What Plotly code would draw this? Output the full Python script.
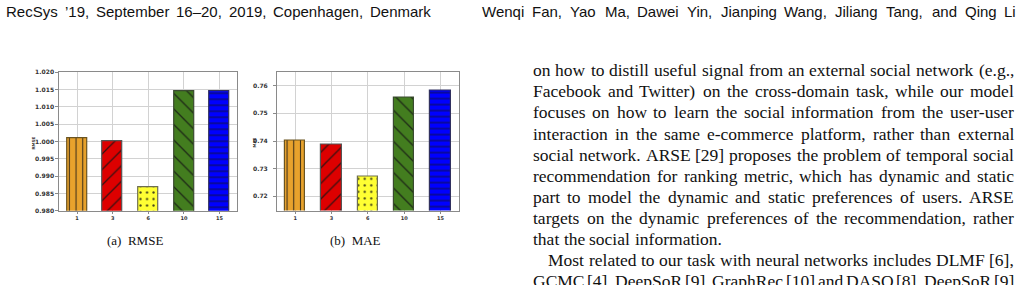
import plotly.graph_objects as go

W, H = 1022, 285

# ---------------- data ----------------
categories = ["1", "3", "6", "10", "15"]
rmse_values = [1.0009, 1.0000, 0.9867, 1.0145, 1.0145]
mae_values = [0.7401, 0.7387, 0.7270, 0.7556, 0.7584]
rmse_ticks = [0.980, 0.985, 0.990, 0.995, 1.000, 1.005, 1.010, 1.015, 1.020]
mae_ticks = [0.72, 0.73, 0.74, 0.75, 0.76]
bar_colors = ["#E8A22C", "#DD0000", "#FFFF33", "#437D1F", "#0000FF"]
edge_colors = ["#6b5420", "#555555", "#6e6e50", "#3a4a30", "#303060"]
hatch_shapes = ["|", "/", ".", "\\", "-"]

header_left = "RecSys ’19, September 16–20, 2019, Copenhagen, Denmark"
header_right = "Wenqi Fan, Yao Ma, Dawei Yin, Jianping Wang, Jiliang Tang, and Qing Li"
body_lines = [
    "on how to distill useful signal from an external social network (e.g.,",
    "Facebook and Twitter) on the cross-domain task, while our model",
    "focuses on how to learn the social information from the user-user",
    "interaction in the same e-commerce platform, rather than external",
    "social network. ARSE [29] proposes the problem of temporal social",
    "recommendation for ranking metric, which has dynamic and static",
    "part to model the dynamic and static preferences of users. ARSE",
    "targets on the dynamic preferences of the recommendation, rather",
    "that the social information.",
    "Most related to our task with neural networks includes DLMF [6],",
    "GCMC [4], DeepSoR [9], GraphRec [10] and DASO [8]. DeepSoR [9]",
]
captions = ["(a)  RMSE", "(b)  MAE"]
axis_titles = ["RMSE", "MAE"]

# ---------------- font metrics (Times / Arial compatible) ----------------
TIMES = {' ': 250, '(': 333, ')': 333, ',': 250, '-': 333, '.': 250, ':': 278, ';': 278,
         '[': 333, ']': 333, "'": 333, '’': 333,
         'A': 722, 'B': 667, 'C': 667, 'D': 722, 'E': 611, 'F': 556, 'G': 722, 'H': 722,
         'I': 333, 'J': 389, 'K': 722, 'L': 611, 'M': 889, 'N': 722, 'O': 722, 'P': 556,
         'Q': 722, 'R': 667, 'S': 556, 'T': 611, 'U': 722, 'V': 722, 'W': 944, 'X': 722,
         'Y': 722, 'Z': 611,
         'a': 444, 'b': 500, 'c': 444, 'd': 500, 'e': 444, 'f': 333, 'g': 500, 'h': 500,
         'i': 278, 'j': 278, 'k': 500, 'l': 278, 'm': 778, 'n': 500, 'o': 500, 'p': 500,
         'q': 500, 'r': 333, 's': 389, 't': 278, 'u': 500, 'v': 500, 'w': 722, 'x': 500,
         'y': 500, 'z': 444}
for d in "0123456789":
    TIMES[d] = 500
ARIAL = {' ': 278, '(': 333, ')': 333, ',': 278, '-': 333, '.': 278, ':': 278,
         '’': 222, "'": 191, '–': 556,
         'A': 667, 'B': 667, 'C': 722, 'D': 722, 'E': 667, 'F': 611, 'G': 778, 'H': 722,
         'I': 278, 'J': 500, 'K': 667, 'L': 556, 'M': 833, 'N': 722, 'O': 778, 'P': 667,
         'Q': 778, 'R': 722, 'S': 667, 'T': 611, 'U': 722, 'V': 667, 'W': 944, 'X': 667,
         'Y': 667, 'Z': 611,
         'a': 556, 'b': 556, 'c': 500, 'd': 556, 'e': 556, 'f': 278, 'g': 556, 'h': 556,
         'i': 222, 'j': 222, 'k': 500, 'l': 222, 'm': 833, 'n': 556, 'o': 556, 'p': 556,
         'q': 556, 'r': 333, 's': 500, 't': 278, 'u': 556, 'v': 500, 'w': 722, 'x': 500,
         'y': 500, 'z': 500}
for d in "0123456789":
    ARIAL[d] = 556


def twidth(s, table, size):
    return sum(table.get(c, 500) for c in s) * size / 1000.0


annotations = []


def place_line(text, x0, x1, yc, size, family, table, justify=True, color="#111"):
    words = text.split(" ")
    widths = [twidth(w, table, size) for w in words]
    if justify and len(words) > 1:
        gap = (x1 - x0 - sum(widths)) / (len(words) - 1)
    else:
        gap = table[' '] * size / 1000.0
    x = x0
    for w, ww in zip(words, widths):
        annotations.append(dict(
            x=x / W, y=1 - yc / H, xref="paper", yref="paper",
            xanchor="left", yanchor="middle", text=w, showarrow=False,
            borderpad=0, borderwidth=0,
            font=dict(family=family, size=size, color=color)))
        x += ww + gap


# ---------------- figure ----------------
fig = go.Figure()

panels = [
    dict(vals=rmse_values, ticks=rmse_ticks, fmt="%.3f", yr=[0.980, 1.020],
         xd=[59.3, 237.3], yd=[70.0, 212.0], standoff=0),
    dict(vals=mae_values, ticks=mae_ticks, fmt="%.2f", yr=[0.7149, 0.7651],
         xd=[277.0, 458.7], yd=[69.3, 211.7], standoff=4),
]

pattern_sizes = {"|": 6.7, "/": 11, ".": 6.5, "\\": 11, "-": 6}
pattern_solid = {"|": 0.16, "/": 0.12, ".": 0.1, "\\": 0.12, "-": 0.17}

for i, p in enumerate(panels):
    xa = "x" if i == 0 else "x2"
    ya = "y" if i == 0 else "y2"
    for j, cat in enumerate(categories):
        shp = hatch_shapes[j]
        fig.add_trace(go.Bar(
            x=[cat], y=[p["vals"][j]], xaxis=xa, yaxis=ya, width=0.56,
            marker=dict(
                color=bar_colors[j],
                line=dict(color=edge_colors[j], width=1.2),
                pattern=dict(shape=shp, size=pattern_sizes[shp],
                             solidity=pattern_solid[shp],
                             fgcolor="#141414", fgopacity=0.8, fillmode="overlay"),
            ),
            showlegend=False, hoverinfo="skip",
        ))

layout_axes = {}
for i, p in enumerate(panels):
    sx = "" if i == 0 else "2"
    layout_axes["xaxis" + sx] = dict(
        domain=[p["xd"][0] / W, p["xd"][1] / W], anchor="y" + sx,
        type="category", categoryorder="array", categoryarray=categories,
        range=[-0.5, 4.5],
        showgrid=True, gridcolor="#d2d2d2", gridwidth=1,
        showline=True, mirror=True, linecolor="#8a8a8a", linewidth=1,
        ticks="outside", ticklen=2, tickcolor="#8a8a8a",
        tickfont=dict(family="DejaVu Sans", size=5, color="#333", weight="bold"),
        zeroline=False, fixedrange=True,
    )
    layout_axes["yaxis" + sx] = dict(
        domain=[1 - p["yd"][1] / H, 1 - p["yd"][0] / H], anchor="x" + sx,
        range=p["yr"],
        tickvals=p["ticks"],
        ticktext=[p["fmt"] % t for t in p["ticks"]],
        showgrid=True, gridcolor="#d2d2d2", gridwidth=1,
        showline=True, mirror=True, linecolor="#8a8a8a", linewidth=1,
        ticks="outside", ticklen=3, tickcolor="#8a8a8a",
        ticklabelstandoff=p["standoff"],
        tickfont=dict(family="DejaVu Sans", size=6, color="#333", weight="bold"),
        zeroline=False, fixedrange=True,
    )

# axis titles
for (xt, yt), t in zip([(33, 143), (255, 142)], axis_titles):
    annotations.append(dict(x=xt / W, y=1 - yt / H, xref="paper", yref="paper",
                            text=t, showarrow=False, textangle=-90,
                            xanchor="center", yanchor="middle",
                            font=dict(family="DejaVu Sans", size=4, color="#333", weight="bold")))

# captions
for (xc, yc), t in zip([(135, 242.5), (355, 242.5)], captions):
    annotations.append(dict(x=xc / W, y=1 - yc / H, xref="paper", yref="paper",
                            text=t.replace("  ", "&nbsp; "), showarrow=False,
                            xanchor="center", yanchor="middle",
                            font=dict(family="Liberation Serif", size=13, color="#111")))

# running headers
place_line(header_left, 6, 431, 7.5, 15, "Liberation Sans", ARIAL, justify=True)
place_line(header_right, 482, 1016, 7.5, 15, "Liberation Sans", ARIAL, justify=True)

# body text
BODY_SIZE = 17.5
LEFT, RIGHT, INDENT = 533, 1014, 15
for k, line in enumerate(body_lines):
    yc = 68 + 21.6 * k
    x0 = LEFT + (INDENT if line.startswith("Most related") else 0)
    just = not line.endswith("information.")
    place_line(line, x0, RIGHT, yc, BODY_SIZE, "Liberation Serif", TIMES, justify=just)

fig.update_layout(
    width=W, height=H, autosize=False,
    margin=dict(l=0, r=0, t=0, b=0),
    paper_bgcolor="white", plot_bgcolor="white",
    barmode="overlay", bargap=0, annotations=annotations, **layout_axes,
)

fig.write_html("out.html", config={"displayModeBar": False})
